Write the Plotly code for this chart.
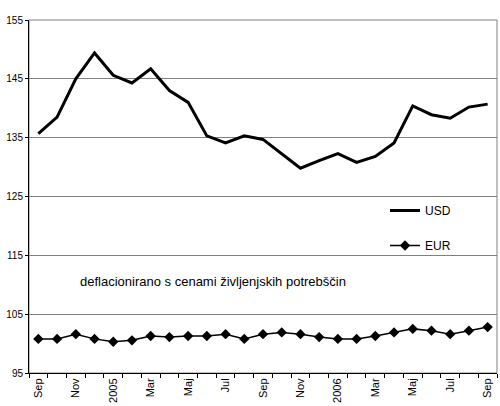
import plotly.graph_objects as go

months = ["Sep", "Okt", "Nov", "Dec", "2005", "Feb", "Mar", "Apr", "Maj", "Jun", "Jul", "Avg",
          "Sep", "Okt", "Nov", "Dec", "2006", "Feb", "Mar", "Apr", "Maj", "Jun", "Jul", "Avg", "Sep"]
usd = [135.7, 138.5, 145.0, 149.4, 145.6, 144.3, 146.7, 143.0, 141.0, 135.3, 134.1, 135.3,
       134.7, 132.2, 129.8, 131.1, 132.3, 130.8, 131.8, 134.1, 140.4, 138.9, 138.3, 140.2, 140.7]
eur = [100.8, 100.8, 101.6, 100.8, 100.3, 100.55, 101.3, 101.1, 101.3, 101.3, 101.6, 100.8,
       101.6, 101.9, 101.6, 101.1, 100.8, 100.8, 101.3, 101.9, 102.5, 102.2, 101.6, 102.2, 102.8]
y_ticks = [95, 105, 115, 125, 135, 145, 155]
note = "deflacionirano s cenami življenjskih potrebščin"

x = list(range(len(months)))
FONT = "Liberation Sans, Arial, sans-serif"

fig = go.Figure()
fig.add_trace(go.Scatter(x=x, y=usd, mode="lines", name="USD",
                         line=dict(color="black", width=3), legendgroup="a"))
fig.add_trace(go.Scatter(x=x, y=eur, mode="lines+markers", name="EUR",
                         line=dict(color="black", width=1.5),
                         marker=dict(symbol="diamond", size=8, color="black"), legendgroup="b"))

fig.update_layout(
    width=500, height=406,
    margin=dict(l=29, r=3, t=20, b=33, autoexpand=False),
    paper_bgcolor="white", plot_bgcolor="white",
    font=dict(family=FONT, size=11, color="black"),
    showlegend=True,
    legend=dict(x=(385 - 29) / 468, y=(373 - 196) / 353, xanchor="left", yanchor="top",
                bgcolor="rgba(0,0,0,0)", font=dict(size=12, family=FONT),
                tracegroupgap=16, traceorder="grouped", itemwidth=30),
    xaxis=dict(range=[-0.5, len(months) - 0.5], tickmode="array",
               tickvals=x[::2], ticktext=months[::2], tickangle=-90,
               ticks="", showgrid=False, zeroline=False, automargin=False,
               showline=True, linecolor="black", linewidth=1,
               tickfont=dict(size=11),
               minor=dict(tick0=-0.5, dtick=1, ticks="outside", ticklen=4,
                          tickcolor="black", showgrid=False)),
    yaxis=dict(range=[95, 155], tickmode="array", tickvals=y_ticks,
               ticks="outside", ticklen=3, tickcolor="black", automargin=False,
               showgrid=True, gridcolor="#808080", gridwidth=1,
               zeroline=False, showline=True, linecolor="black", linewidth=1,
               tickfont=dict(size=10)),
    shapes=[
        dict(type="rect", xref="paper", yref="paper", x0=0, x1=1, y0=0, y1=1,
             line=dict(color="#808080", width=1), layer="below"),
        dict(type="rect", xref="paper", yref="paper",
             x0=(360 - 29) / 468, x1=(480 - 29) / 468,
             y0=(373 - 268) / 353, y1=(373 - 185) / 353,
             fillcolor="white", line=dict(width=0), layer="between"),
    ],
    annotations=[dict(text=note, x=(213 - 29) / 468, y=(373 - 291) / 353,
                      xref="paper", yref="paper", showarrow=False,
                      font=dict(size=13, family=FONT))],
)

fig.write_html("out.html", config={"displayModeBar": False},
               post_script="document.body.style.margin='0';document.body.style.overflow='hidden';")
